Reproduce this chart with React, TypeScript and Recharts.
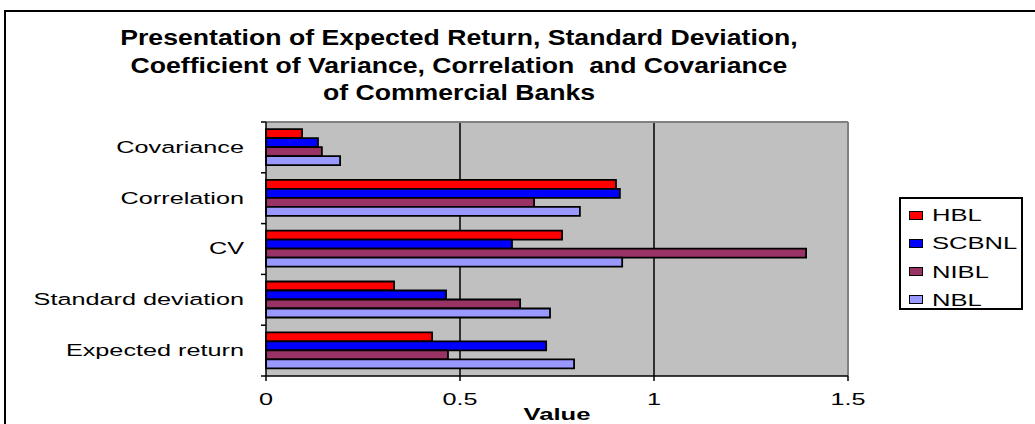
import React from 'react';
import { BarChart, Bar, XAxis, YAxis, CartesianGrid, ReferenceLine } from 'recharts';

const categories = ['Covariance', 'Correlation', 'CV', 'Standard deviation', 'Expected return'];
const hbl = [0.093, 0.902, 0.763, 0.33, 0.428];
const scbnl = [0.134, 0.912, 0.634, 0.464, 0.722];
const nibl = [0.144, 0.691, 1.392, 0.655, 0.469];
const nbl = [0.191, 0.809, 0.918, 0.732, 0.794];
const seriesNames = ['HBL', 'SCBNL', 'NIBL', 'NBL'];
const seriesColors = ['#FF0000', '#0000FF', '#993366', '#9999FF'];
const xTicks = [0, 0.5, 1, 1.5];
const titleLines = [
  'Presentation of Expected Return, Standard Deviation,',
  'Coefficient of Variance, Correlation  and Covariance',
  'of Commercial Banks',
];
const xAxisTitle = 'Value';

const seriesValues = [hbl, scbnl, nibl, nbl];
const data = categories.map((c, i) => {
  const row: any = { category: c };
  seriesNames.forEach((s, k) => {
    row[s] = seriesValues[k][i];
  });
  return row;
});

const FONT = '"Liberation Sans", Arial, sans-serif';

const YTick = (props: any) => {
  const { x, y, payload, index, visibleTicksCount } = props;
  const half = payload && payload.offset ? payload.offset : 25.4;
  const last = index === (visibleTicksCount ?? categories.length) - 1;
  return (
    <g>
      <line x1={x - 5} x2={x} y1={y - half} y2={y - half} stroke="#000" strokeWidth={1.5} />
      {last && <line x1={x - 5} x2={x} y1={y + half} y2={y + half} stroke="#000" strokeWidth={1.5} />}
      <text
        transform={`translate(${x - 22},${y}) scale(1.53,1)`}
        textAnchor="end"
        dominantBaseline="central"
        fontFamily={FONT}
        fontSize={16.5}
        fill="#000"
      >
        {payload.value}
      </text>
    </g>
  );
};

const XTick = (props: any) => {
  const { x, y, payload } = props;
  return (
    <text
      transform={`translate(${x},${y + 17}) scale(1.53,1)`}
      textAnchor="middle"
      dominantBaseline="central"
      fontFamily={FONT}
      fontSize={16.5}
      fill="#000"
    >
      {payload.value}
    </text>
  );
};

const XLabel = (props: any) => {
  const vb = props.viewBox || {};
  const cx = (vb.x ?? 0) + (vb.width ?? 0) / 2;
  const cy = (vb.y ?? 0) + 39;
  return (
    <text
      transform={`translate(${cx},${cy}) scale(1.6,1)`}
      textAnchor="middle"
      dominantBaseline="central"
      fontFamily={FONT}
      fontSize={16}
      fontWeight="bold"
      fill="#000"
    >
      {xAxisTitle}
    </text>
  );
};

export default function App() {
  return (
    <div style={{ position: 'absolute', left: 0, top: 0, width: 1035, height: 424, overflow: 'hidden', background: '#fff' }}>
      <div
        style={{
          position: 'absolute',
          left: 4,
          top: 10,
          width: 1050,
          height: 430,
          border: '2px solid #000',
          boxSizing: 'border-box',
        }}
      />
      {titleLines.map((t, i) => (
        <div
          key={i}
          style={{
            position: 'absolute',
            left: 459 - 500,
            width: 1000,
            top: 38 + i * 27.5 - 13,
            height: 26,
            lineHeight: '26px',
            textAlign: 'center',
            fontFamily: FONT,
            fontWeight: 'bold',
            fontSize: 22,
            whiteSpace: 'pre',
            transform: 'scaleX(1.21)',
            transformOrigin: '50% 50%',
            color: '#000',
          }}
        >
          {t}
        </div>
      ))}
      <div style={{ position: 'absolute', left: 0, top: 0 }}>
        <BarChart
          width={1035}
          height={424}
          data={data}
          layout="vertical"
          margin={{ top: 122, right: 187, bottom: 8, left: 6 }}
          barCategoryGap="14%"
          barGap={0}
        >
          <CartesianGrid fill="#C0C0C0" stroke="#000" strokeWidth={1.5} horizontal={false} verticalValues={[0.5, 1]} />
          <CartesianGrid
            stroke="#808080"
            strokeWidth={2}
            vertical={false}
            horizontalCoordinatesGenerator={(p: any) => [p.offset.top]}
          />
          <XAxis
            type="number"
            domain={[0, 1.5]}
            ticks={xTicks}
            height={40}
            axisLine={{ stroke: '#000', strokeWidth: 1.5 }}
            tickLine={{ stroke: '#000', strokeWidth: 1.5 }}
            tickSize={5}
            tickMargin={2}
            tick={<XTick />}
            label={<XLabel />}
          />
          <YAxis
            type="category"
            dataKey="category"
            width={260}
            axisLine={{ stroke: '#000', strokeWidth: 1.5 }}
            tickLine={false}
            tickSize={0}
            tickMargin={0}
            tick={<YTick />}
            interval={0}
          />
          <ReferenceLine x={1.5} stroke="#808080" strokeWidth={2} />
          {seriesNames.map((s, k) => (
            <Bar
              key={s}
              dataKey={s}
              fill={seriesColors[k]}
              stroke="#000"
              strokeWidth={1.8}
              isAnimationActive={false}
            />
          ))}
        </BarChart>
      </div>
      <div
        style={{
          position: 'absolute',
          left: 899,
          top: 197,
          width: 124,
          height: 113,
          border: '2px solid #000',
          boxSizing: 'border-box',
          background: '#fff',
        }}
      >
        {seriesNames.map((s, k) => (
          <div key={s} style={{ position: 'absolute', left: 8, top: 6 + k * 28.3, height: 20, display: 'flex', alignItems: 'center' }}>
            <div style={{ width: 14, height: 9, background: seriesColors[k], border: '1.5px solid #000', boxSizing: 'border-box' }} />
            <div
              style={{
                marginLeft: 9,
                fontFamily: FONT,
                fontSize: 16.5,
                lineHeight: '20px',
                transform: 'scaleX(1.55)',
                transformOrigin: '0 50%',
                color: '#000',
              }}
            >
              {s}
            </div>
          </div>
        ))}
      </div>
    </div>
  );
}
